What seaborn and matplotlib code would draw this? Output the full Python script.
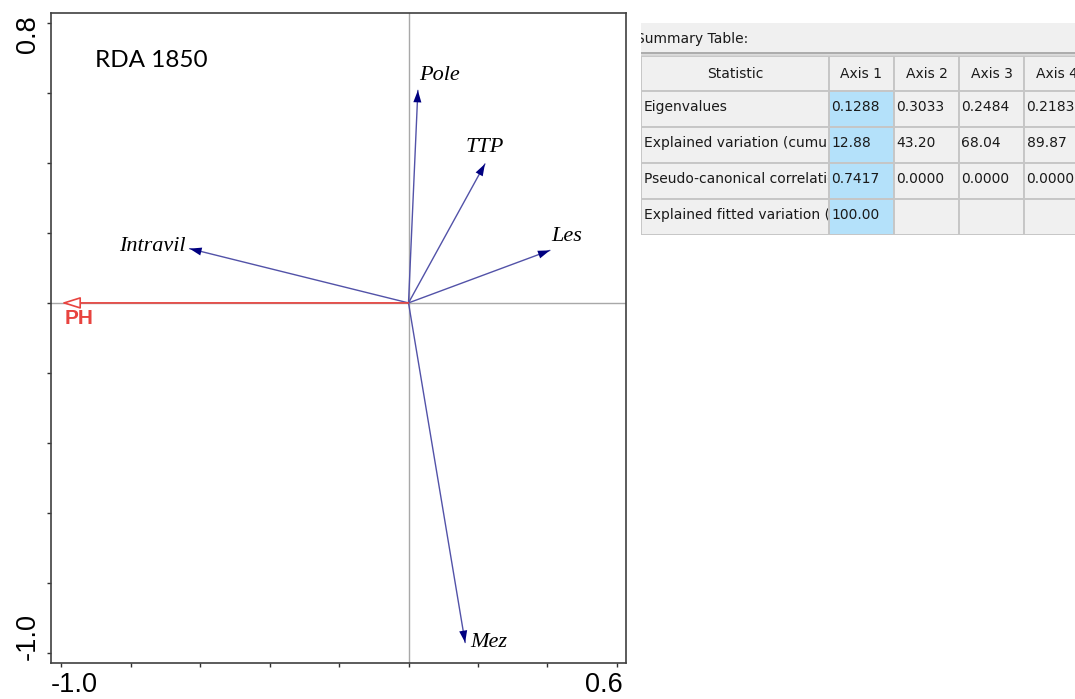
import numpy as np
import pandas as pd
import matplotlib
matplotlib.use("Agg")
import matplotlib.pyplot as plt
import matplotlib.transforms as mtransforms
from matplotlib.patches import Rectangle
import seaborn as sns

# RDA biplot scores (axis 1, axis 2)
env_names = ["Pole", "TTP", "Les", "Intravil", "Mez"]
env_x = [0.027, 0.220, 0.407, -0.630, 0.163]
env_y = [0.607, 0.397, 0.150, 0.155, -0.970]

sup_names = ["PH"]
sup_x = [-0.999]
sup_y = [0.0]

x_ticks = [-1.0, -0.8, -0.6, -0.4, -0.2, 0.0, 0.2, 0.4, 0.6]
x_tick_labels = ["-1.0", "", "", "", "", "", "", "", "0.6"]
y_ticks = [-1.0, -0.8, -0.6, -0.4, -0.2, 0.0, 0.2, 0.4, 0.6, 0.8]
y_tick_labels = ["-1.0", "", "", "", "", "", "", "", "", "0.8"]

# summary table from CANOCO
table_title = "Summary Table:"
table_header = ["Statistic", "Axis 1", "Axis 2", "Axis 3", "Axis 4"]
stat_names = ["Eigenvalues", "Explained variation (cumulative)",
              "Pseudo-canonical correlation", "Explained fitted variation (cumulative)"]
eigenvalues = ["0.1288", "0.3033", "0.2484", "0.2183"]
explained = ["12.88", "43.20", "68.04", "89.87"]
pseudo_corr = ["0.7417", "0.0000", "0.0000", "0.0000"]
fitted = ["100.00", "", "", ""]

sns.set_theme(style="white")
plt.rcParams["font.family"] = ["DejaVu Sans"]

navy = "#000080"
shaft = "#5252a8"
red = "#e8433f"

fig = plt.figure(figsize=(10.75, 6.99), dpi=100)
ax = fig.add_axes([51 / 1075, (699 - 662.5) / 699, 575 / 1075, 649.5 / 699])

# shafts drawn with seaborn from long-form data
rows = []
for n, x, y in zip(env_names, env_x, env_y):
    rows.append({"name": n, "x": 0.0, "y": 0.0})
    rows.append({"name": n, "x": x, "y": y})
shafts = pd.DataFrame(rows)

ax.axhline(0, color="#a8a8a8", lw=1, zorder=0)
ax.axvline(0, color="#a8a8a8", lw=1, zorder=0)

sns.lineplot(data=shafts, x="x", y="y", units="name", estimator=None, sort=False,
             color=shaft, lw=1, ax=ax)

# arrow heads
for x, y in zip(env_x, env_y):
    ax.annotate("", xy=(x, y), xytext=(0, 0),
                arrowprops=dict(arrowstyle="-|>,head_length=0.86,head_width=0.29",
                                mutation_scale=10, lw=0, fc=navy, ec=navy,
                                shrinkA=0, shrinkB=0))

for x, y in zip(sup_x, sup_y):
    ax.annotate("", xy=(x, y), xytext=(0, 0),
                arrowprops=dict(arrowstyle="-|>,head_length=1.15,head_width=0.36",
                                mutation_scale=10, lw=1.2, fc="white", ec=red,
                                shrinkA=0, shrinkB=0))

# label placement (offset points, alignment)
label_pos = {
    "Pole": ((0.7, 10.8), "left"),
    "TTP": ((0, 11.5), "center"),
    "Les": ((0.7, 10.0), "left"),
    "Intravil": ((-2.9, 1.4), "right"),
    "Mez": ((3.6, 0), "left"),
}
for n, x, y in zip(env_names, env_x, env_y):
    off, ha = label_pos[n]
    ax.annotate(n, xy=(x, y), xytext=off, textcoords="offset points",
                ha=ha, va="center", fontsize=16, style="italic",
                family="Liberation Serif", color="black")

for n, x, y in zip(sup_names, sup_x, sup_y):
    ax.annotate(n, xy=(x, y), xytext=(2, -11.5), textcoords="offset points",
                ha="left", va="center", fontsize=15, fontweight="bold",
                family="Liberation Sans", color=red)

ax.text(0.0765, 0.9276, "RDA 1850", transform=ax.transAxes, ha="left", va="center",
        fontsize=17.5, family="Lato", color="black")

ax.set_xlim(-1.029, 0.626)
ax.set_ylim(-1.027, 0.828)
ax.set(xlabel="", ylabel="")
ax.set_xticks(x_ticks, x_tick_labels)
ax.set_yticks(y_ticks, y_tick_labels)
ax.tick_params(axis="both", direction="out", length=3, width=1, color="#303030",
               labelsize=19.5, labelcolor="black", left=True, bottom=True)
ax.tick_params(axis="x", pad=3.6)
ax.tick_params(axis="y", pad=4.5, labelrotation=90)
for lab in ax.get_xticklabels() + ax.get_yticklabels():
    lab.set_family("Liberation Sans")
for s in ax.spines.values():
    s.set_color("#404040")
    s.set_linewidth(1.2)

shift = {
    "x": {0: (9.4, 0), 8: (-9.4, 0)},
    "y": {0: (0, 12.2), 9: (0, -7.9)},
}
for i, lab in enumerate(ax.get_xticklabels()):
    if i in shift["x"]:
        dx, dy = shift["x"][i]
        lab.set_transform(lab.get_transform() +
                          mtransforms.ScaledTranslation(dx / 72, dy / 72, fig.dpi_scale_trans))
for i, lab in enumerate(ax.get_yticklabels()):
    lab.set_va("center")
    if i in shift["y"]:
        dx, dy = shift["y"][i]
        lab.set_transform(lab.get_transform() +
                          mtransforms.ScaledTranslation(dx / 72, dy / 72, fig.dpi_scale_trans))

# ---- summary table panel (pixel coordinates) ----
tab = fig.add_axes([641 / 1075, (699 - 235) / 699, 434 / 1075, 212 / 699])
tab.set_xlim(641, 1075)
tab.set_ylim(235, 23)
tab.set_facecolor("#f0f0f0")
tab.set_xticks([])
tab.set_yticks([])
for s in tab.spines.values():
    s.set_visible(False)

tab.text(636, 38.5, table_title, ha="left", va="center", fontsize=10, color="#1a1a1a",
         clip_on=True)
tab.plot([641, 1075], [53.5, 53.5], color="#a0a0a0", lw=1.2)
tab.plot([641, 1075], [55.5, 55.5], color="#d8d8d8", lw=1.2)

col_edges = [641, 829, 894, 959, 1024, 1089]
row_edges = [56, 91, 127, 163, 199, 235]
body = [[stat_names[0]] + eigenvalues,
        [stat_names[1]] + explained,
        [stat_names[2]] + pseudo_corr,
        [stat_names[3]] + fitted]
cells = [table_header] + body

for r, row in enumerate(cells):
    y0, y1 = row_edges[r], row_edges[r + 1]
    for c, val in enumerate(row):
        x0, x1 = col_edges[c], col_edges[c + 1]
        fc = "#b4e1fa" if (c == 1 and r > 0) else "#f0f0f0"
        rect = Rectangle((x0, y0), x1 - x0, y1 - y0, fc=fc, ec="#c6c6c6", lw=1.4)
        tab.add_patch(rect)
        if r == 0:
            t = tab.text((x0 + x1) / 2, (y0 + y1) / 2, val, ha="center", va="center",
                         fontsize=10, color="#1a1a1a")
        else:
            t = tab.text(x0 + 2.5, (y0 + y1) / 2 - 2, val, ha="left", va="center",
                         fontsize=10, color="#1a1a1a")
        clip = Rectangle((x0 + 1, y0), x1 - x0 - 2, y1 - y0, transform=tab.transData)
        t.set_clip_on(True)
        t.set_clip_path(clip)

fig.savefig("out.png", dpi=100)
